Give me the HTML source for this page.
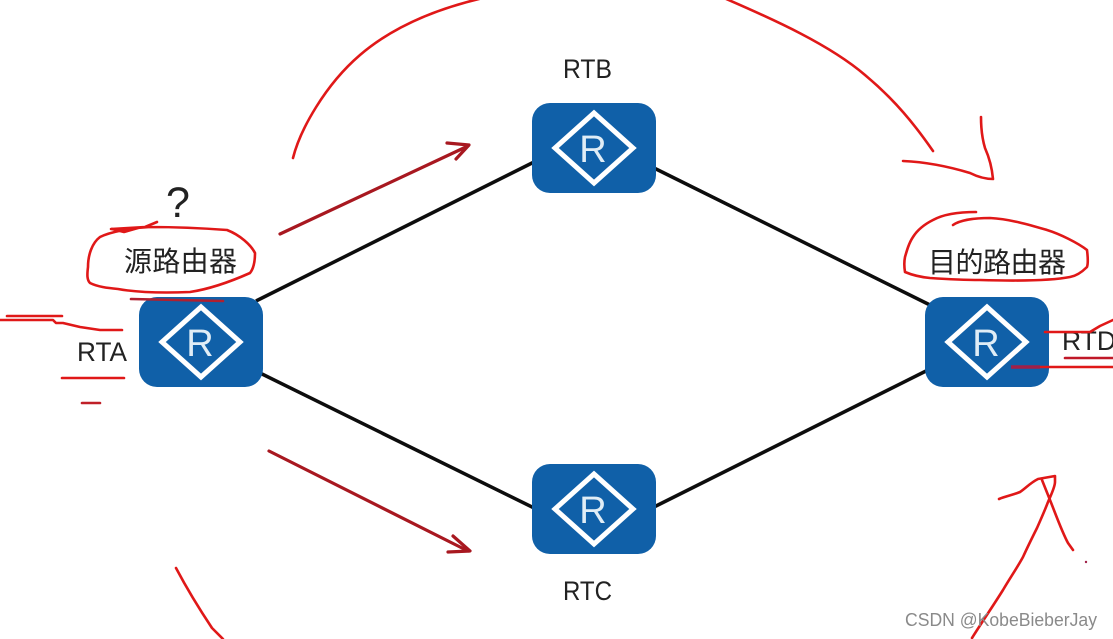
<!DOCTYPE html>
<html>
<head>
<meta charset="utf-8">
<style>
html,body{margin:0;padding:0;background:#fff;width:1113px;height:639px;overflow:hidden}
svg{display:block}
text{font-family:"Liberation Sans","Noto Sans CJK SC",sans-serif;fill:#222}
</style>
</head>
<body>
<svg width="1113" height="639" viewBox="0 0 1113 639" xmlns="http://www.w3.org/2000/svg">
<defs>
<g id="router">
<rect x="0" y="0" width="124" height="90" rx="18" ry="18" fill="#1060a8"/>
<polygon points="62,10 101,45 62,80 23,45" fill="none" stroke="#fff" stroke-width="5"/>
<text x="61" y="59" text-anchor="middle" font-size="38" style="fill:#e0edf6">R</text>
</g>
</defs>
<rect width="1113" height="639" fill="#fff"/>

<g stroke="#0d0d0d" stroke-width="3.5" fill="none">
<line x1="256" y1="301" x2="534" y2="162"/>
<line x1="654" y1="168" x2="930" y2="305"/>
<line x1="260" y1="373" x2="534" y2="508"/>
<line x1="654" y1="507" x2="928" y2="370"/>
</g>

<use href="#router" x="139" y="297"/>
<use href="#router" x="532" y="103"/>
<use href="#router" x="532" y="464"/>
<use href="#router" x="925" y="297"/>

<text x="563" y="78" font-size="27" textLength="49" lengthAdjust="spacingAndGlyphs">RTB</text>
<text x="563" y="600" font-size="27" textLength="49" lengthAdjust="spacingAndGlyphs">RTC</text>
<text x="77" y="361" font-size="27" textLength="50" lengthAdjust="spacingAndGlyphs">RTA</text>
<text x="1062" y="350" font-size="27" textLength="54" lengthAdjust="spacingAndGlyphs">RTD</text>
<text x="178" y="217" font-size="43" text-anchor="middle">?</text>
<text x="124" y="271" font-size="28" textLength="113">源路由器</text>
<text x="928" y="272" font-size="28" textLength="138">目的路由器</text>

<g fill="none" stroke="#a81820" stroke-width="3.2" stroke-linecap="round" stroke-linejoin="round">
<line x1="280" y1="234" x2="468" y2="146"/>
<polyline points="447,143 469,145 456,159"/>
<line x1="269" y1="451" x2="468" y2="551"/>
<polyline points="453,536 470,551 448,552"/>
</g>

<g fill="none" stroke="#e01818" stroke-width="2.6" stroke-linecap="round" stroke-linejoin="round">
<path d="M293,158 C300,130 325,85 360,55 C395,25 440,8 483,-2"/>
<path d="M724,-2 C775,20 830,45 865,75 C895,100 915,125 933,151"/>
<path d="M903,161 C925,162 947,166 970,173 C978,177 985,179 993,179 C992,168 989,157 985,148 C982,138 981,128 981,117"/>

<polyline points="111,229 128,228 145,227 157,222"/>
<polyline points="112,229 124,232 138,228"/>
<path d="M150,227 C130,228 110,232 100,237 C92,243 88,255 88,267 C87,275 87,280 90,283 C98,287 108,288 118,289 C140,293 165,293 190,292 C210,289 232,281 250,273 C254,268 255,260 255,253 C251,245 240,235 227,230 C200,228 175,227 150,227"/>

<path d="M953,225 C960,220 975,218 990,218 C1010,219 1030,225 1047,230 C1060,234 1078,243 1087,250 C1088,258 1088,264 1087,267 C1082,272 1076,276 1070,277 C1050,281 1015,281 980,280 C960,280 945,279 930,278 C920,277 912,275 905,272 C904,266 904,262 905,257 C907,250 909,243 913,237 C918,229 925,224 933,220 C942,215 955,212 976,212"/>

<line x1="7" y1="316" x2="62" y2="316"/>
<polyline points="0,320 53,320 56,323 63,323 80,327 100,330 122,330"/>
<line x1="62" y1="378" x2="124" y2="378"/>
<line x1="82" y1="403" x2="100" y2="403" stroke="#c02028"/>
<line x1="131" y1="299" x2="223" y2="301" stroke="#b02030"/>

<polyline points="1045,332 1090,332 1100,326 1113,320"/>
<line x1="1065" y1="358" x2="1113" y2="358" stroke="#c01828"/>
<line x1="1040" y1="367" x2="1113" y2="367"/>

<path d="M176,568 C185,585 200,610 212,628 L223,639"/>

<path d="M972,638 C982,622 993,606 1003,590 C1010,578 1017,568 1023,557 C1028,546 1032,538 1037,528 C1041,519 1045,510 1048,502 C1051,495 1055,487 1055,482 L1055,476 L1038,479 C1030,483 1026,488 1020,492 C1013,495 1006,496 999,499"/>
<path d="M1042,480 L1050,500 C1056,515 1062,532 1068,543 L1073,550"/>
</g>
<line x1="1011" y1="367" x2="1040" y2="367" stroke="#a02048" stroke-width="3.5"/>
<circle cx="1086" cy="562" r="1.2" fill="#a02048"/>

<text x="905" y="626" font-size="18" style="fill:#8a8a8a" textLength="192" lengthAdjust="spacingAndGlyphs">CSDN @KobeBieberJay</text>
</svg>
</body>
</html>
